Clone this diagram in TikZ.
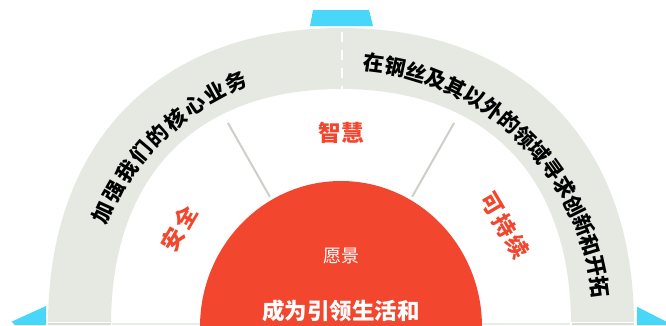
\documentclass[tikz,border=0pt]{standalone}
\usepackage{fontspec}
\usepackage{tikz}

\newfontfamily\cjk{Noto Sans CJK SC}

\definecolor{bandgray}{HTML}{E5E9E2}
\definecolor{stripgray}{HTML}{D9DDD6}
\definecolor{visred}{HTML}{F2462F}
\definecolor{tabcyan}{HTML}{48D6F9}
\definecolor{spokegray}{HTML}{CBD0C8}

\tikzset{
  bandtext/.style={font=\cjk\bfseries\fontsize{21}{21}\selectfont, text=black, inner sep=0pt},
  valuetext/.style={font=\cjk\bfseries\fontsize{22.5}{22.5}\selectfont, text=visred, inner sep=0pt},
  spokeline/.style={color=spokegray, line width=2pt},
}

\begin{document}
\begin{tikzpicture}[x=1pt,y=1pt]

  \useasboundingbox (0,0) rectangle (666,325);
  \clip (0,0) rectangle (666,325);
  \coordinate (c) at (341,3);

  % Cyan tabs.
  \fill[tabcyan] (313,315) -- (369,315) -- (373,299) -- (310,299) -- cycle;
  \fill[tabcyan] (46,19) -- (11.5,3.3) -- (15,0) -- (46,0) -- cycle;
  \fill[tabcyan] (637,18.3) -- (666,3.5) -- (666,0) -- (637,0) -- cycle;

  % Gray band.
  \fill[bandgray] (48,0) .. controls (48,184) and (159,297) .. (341,297)
    .. controls (523,297) and (634,184) .. (634,0)
    -- (571,0) .. controls (571,149) and (486,236) .. (341,236)
    .. controls (196,236) and (111,149) .. (111,0) -- cycle;

  % Bottom strip.
  \fill[stripgray!60] (48,0) rectangle (634,2.6);
  \fill[stripgray] (48,0) rectangle (111,2.6);
  \fill[stripgray] (571,0) rectangle (634,2.6);
  \draw[white, line width=0.8pt] (48,3) -- (634,3);
  \draw[white, line width=1.5pt] (111.5,0) -- (111.5,3);
  \draw[white, line width=1.5pt] (571,0) -- (571,3);

  % Dashed divider.
  \coordinate (div-top) at (342,293);
  \coordinate (div-bot) at (342,236);
  \draw[white, line width=2pt, dash pattern=on 10pt off 8pt] (div-top) -- (div-bot);

  % Spokes.
  \coordinate (spoke-l-in) at ([shift={(119.6:144)}]c);
  \coordinate (spoke-l-out) at ([shift={(119.6:229)}]c);
  \coordinate (spoke-r-in) at ([shift={(60.4:144)}]c);
  \coordinate (spoke-r-out) at ([shift={(60.4:229)}]c);
  \draw[spokeline] (spoke-l-in) -- (spoke-l-out);
  \draw[spokeline] (spoke-r-in) -- (spoke-r-out);

  % Red circle.
  \fill[visred] (341,-2) ellipse [x radius=141, y radius=146];

  % Text along the band.
  \foreach \ch [count=\i from 0] in {加,强,我,们,的,核,心,业,务}
    \node[bandtext, rotate={65.3-\i*5.21}] (core-\i)
      at ([shift={({155.3-\i*5.21}:262)}]c) {\ch};
  \foreach \ch [count=\i from 0] in {在,钢,丝,及,其,以,外,的,领,域,寻,求,创,新,和,开,拓}
    \node[bandtext, rotate={-7.3-\i*4.69}] (new-\i)
      at ([shift={({82.7-\i*4.69}:261)}]c) {\ch};

  % Values.
  \node[valuetext] (wisdom) at ([shift={(90:189.5)}]c) {智慧};
  \coordinate (safety) at ([shift={(150:187)}]c);
  \foreach \ch [count=\i from 0] in {安,全}
    \node[valuetext, rotate=60] (safety-\i) at ([shift={(60:{(\i-0.5)*25})}]safety) {\ch};
  \coordinate (sustain) at ([shift={(30.5:190)}]c);
  \foreach \ch [count=\i from 0] in {可,持,续}
    \node[valuetext, rotate=-59.5] (sustain-\i) at ([shift={(-59.5:{(\i-1)*25})}]sustain) {\ch};

  % Vision.
  \node[text=white, font=\cjk\fontsize{18}{18}\selectfont, inner sep=0pt] (vision) at (341,69) {愿景};
  \node[text=white, font=\cjk\bfseries\fontsize{22.5}{22.5}\selectfont, inner sep=0pt] (mission) at (341,14) {成为引领生活和};

\end{tikzpicture}
\end{document}
